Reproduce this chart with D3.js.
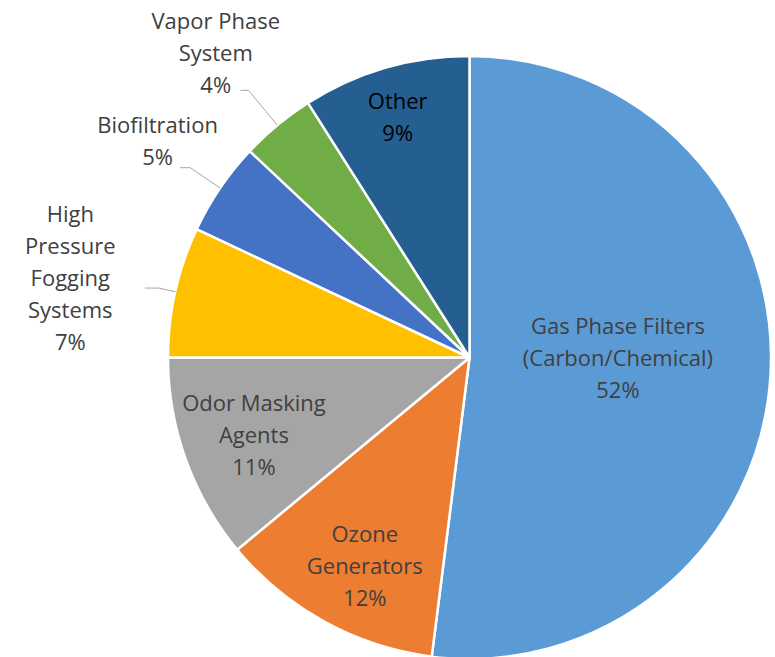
<!DOCTYPE html>
<html>
<head>
<meta charset="utf-8">
<script src="https://cdn.jsdelivr.net/npm/d3@7"></script>
<style>
  html, body { margin: 0; padding: 0; background: #fff; }
  svg { display: block; }
  text { font-family: "Open Sans", Lato, sans-serif; }
</style>
</head>
<body>
<svg id="chart" width="775" height="657"></svg>
<script>
// Market share by odor-control technology
const categories = [
  "Gas Phase Filters (Carbon/Chemical)",
  "Ozone Generators",
  "Odor Masking Agents",
  "High Pressure Fogging Systems",
  "Biofiltration",
  "Vapor Phase System",
  "Other"
];
const shares = [52, 12, 11, 7, 5, 4, 9];
// How each category name wraps in its label
const labelLines = [
  ["Gas Phase Filters", "(Carbon/Chemical)"],
  ["Ozone", "Generators"],
  ["Odor Masking", "Agents"],
  ["High", "Pressure", "Fogging", "Systems"],
  ["Biofiltration"],
  ["Vapor Phase", "System"],
  ["Other"]
];
const colors = ["#5B9BD5", "#ED7D31", "#A5A5A5", "#FFC000", "#4472C4", "#70AD47", "#255E91"];

// Label placement: inside (radius fraction) or outside with leader line
const labelLayout = [
  { inside: true, r: 0.50, dx: -2, dy: -9 },
  { inside: true, r: 0.79, dx: 10, dy: 0 },
  { inside: true, r: 0.76, dx: 0, dy: 0 },
  { inside: false, r: 1.35, dx: -2, dy: 10, elbow: 1.056, tail: 14 },
  { inside: false, r: 1.255, dx: 1, dy: -4, elbow: 1.12, tail: 10 },
  { inside: false, r: 1.31, dx: -2, dy: 0, elbow: 1.15, tail: 8 },
  { inside: true, r: 0.83, dx: -2, dy: 0, color: "#000" }
];

const svg = d3.select("#chart");
const cx = 469.5, cy = 357.5, R = 301.5;
const lineH = 32;
const g = svg.append("g").attr("transform", `translate(${cx},${cy})`);

const data = categories.map((c, i) => ({ name: c, value: shares[i], i }));
const pie = d3.pie().value(d => d.value).sort(null);
const arcs = pie(data);
const arc = d3.arc().innerRadius(0).outerRadius(R);

g.selectAll("path.slice")
  .data(arcs)
  .join("path")
  .attr("class", "slice")
  .attr("d", arc)
  .attr("fill", d => colors[d.data.i])
  .attr("stroke", "#fff")
  .attr("stroke-width", 2.5)
  .attr("stroke-linejoin", "round");

const polar = (a, r) => [r * Math.sin(a), -r * Math.cos(a)];

arcs.forEach(d => {
  const i = d.data.i;
  const lay = labelLayout[i];
  const mid = (d.startAngle + d.endAngle) / 2;
  const [lx0, ly0] = polar(mid, lay.r * R);
  const lx = lx0 + lay.dx;
  const ly = ly0 + lay.dy;
  const lines = labelLines[i].concat([d3.format("d")(d.data.value) + "%"]);
  const n = lines.length;

  const t = g.append("text")
    .attr("text-anchor", "middle")
    .attr("font-size", 22)
    .attr("fill", lay.color || "#404040");
  lines.forEach((s, k) => {
    t.append("tspan")
      .attr("x", lx)
      .attr("y", ly + (k - (n - 1) / 2) * lineH)
      .attr("dy", "0.35em")
      .text(s);
  });

  if (!lay.inside) {
    const edge = polar(mid, R);
    const elbow = polar(mid, lay.elbow * R);
    const end = [elbow[0] - lay.tail, elbow[1]];
    g.append("path")
      .attr("d", d3.line()([edge, elbow, end]))
      .attr("fill", "none")
      .attr("stroke", "#A6A6A6")
      .attr("stroke-width", 1);
  }
});
</script>
</body>
</html>
